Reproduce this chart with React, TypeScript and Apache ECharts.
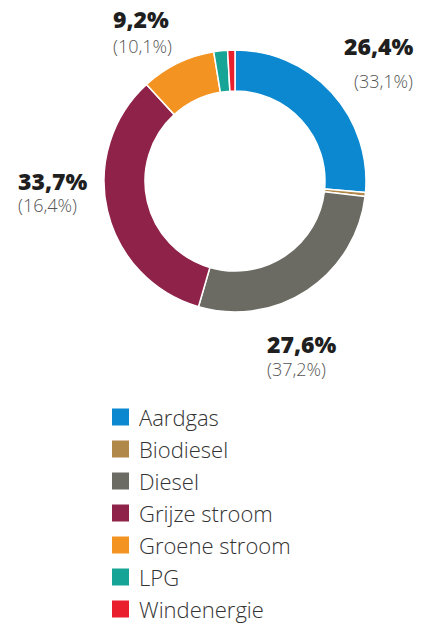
import React, { useEffect, useRef } from "react";
import * as echarts from "echarts";

const categories = ["Aardgas", "Biodiesel", "Diesel", "Grijze stroom", "Groene stroom", "LPG", "Windenergie"];
const values = [26.4, 0.5, 27.6, 33.7, 9.2, 1.7, 0.9];
const previousValues: (number | null)[] = [33.1, null, 37.2, 16.4, 10.1, null, null];
const colors = ["#0B88CF", "#B0894A", "#6B6B63", "#8E2248", "#F39321", "#16A497", "#E91F2E"];

// label anchor positions: [bold x, bold centre y, sub x, sub centre y]
const labelPos: Record<number, [number, number, number, number]> = {
  0: [344, 46, 354, 81],
  2: [267, 344, 267, 369],
  3: [18, 181, 18, 205],
  4: [113, 19, 113, 46],
};

const fmt = (v: number) => v.toFixed(1).replace(".", ",") + "%";

export default function App() {
  const ref = useRef<HTMLDivElement>(null);
  useEffect(() => {
    if (!ref.current) return;
    const chart = echarts.init(ref.current, null, { renderer: "svg" });
    const graphics: any[] = [];
    Object.keys(labelPos).forEach((k) => {
      const i = Number(k);
      const [x1, y1, x2, y2] = labelPos[i];
      graphics.push({
        type: "text",
        x: x1,
        y: y1,
        style: {
          text: fmt(values[i]),
          font: "800 23px 'Open Sans'",
          lineHeight: 20,
          fill: "#1f1f1f",
          verticalAlign: "middle",
          align: "left",
        },
      });
      if (previousValues[i] != null) {
        graphics.push({
          type: "text",
          x: x2,
          y: y2,
          style: {
            text: "(" + fmt(previousValues[i] as number) + ")",
            font: "300 18px 'Open Sans'",
            lineHeight: 18,
            fill: "#555",
            verticalAlign: "middle",
            align: "left",
          },
        });
      }
    });
    chart.setOption({
      animation: false,
      color: colors,
      legend: {
        type: "plain",
        orient: "vertical",
        left: 110,
        top: 406,
        padding: 0,
        icon: "rect",
        itemWidth: 19,
        itemHeight: 19,
        itemGap: 10,
        selectedMode: false,
        data: categories,
        textStyle: {
          fontFamily: "Open Sans",
          fontWeight: 300,
          fontSize: 22,
          color: "#333",
          lineHeight: 22,
          padding: [0, 0, 0, 4],
        },
      },
      graphic: graphics,
      series: [
        {
          type: "pie",
          center: [235, 181],
          radius: [90, 131],
          startAngle: 90,
          clockwise: true,
          label: { show: false },
          labelLine: { show: false },
          emphasis: { disabled: true },
          itemStyle: { borderColor: "#fff", borderWidth: 1.5 },
          data: categories.map((name, i) => ({ name, value: values[i] })),
        },
      ],
    });
    return () => chart.dispose();
  }, []);
  return (
    <div
      ref={ref}
      style={{ position: "absolute", left: 0, top: 0, width: 424, height: 623 }}
    />
  );
}
